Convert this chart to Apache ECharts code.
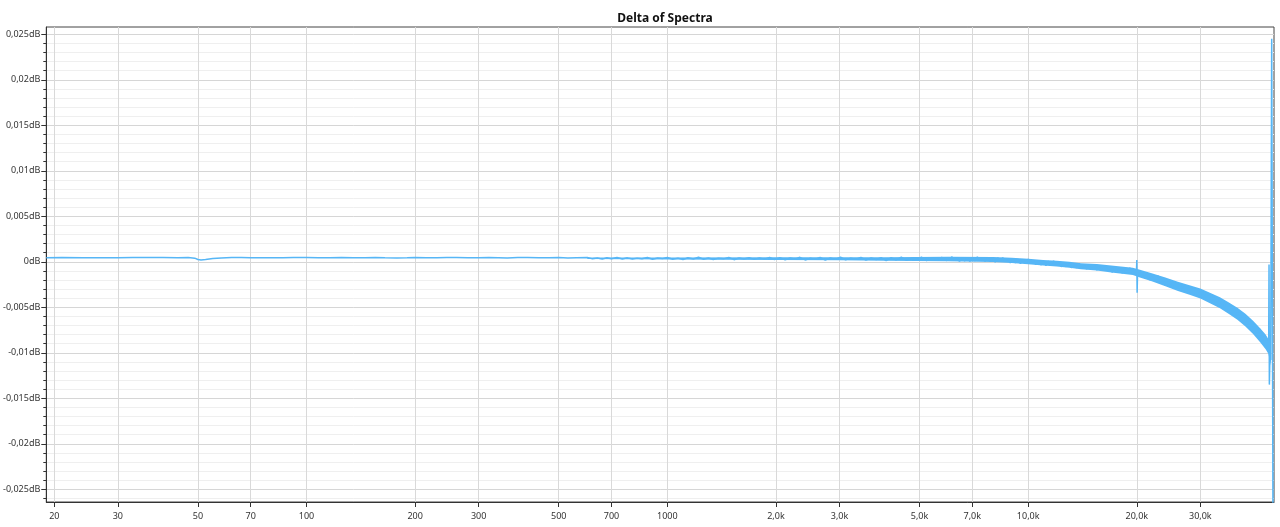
<!DOCTYPE html>
<html><head><meta charset="utf-8">
<script src="https://cdn.jsdelivr.net/npm/echarts@6/dist/echarts.min.js"></script>
<style>html,body{margin:0;padding:0;background:#fff}#chart{width:1280px;height:527px}</style>
</head><body><div id="chart"></div>
<script>
const titleText = 'Delta of Spectra';
const xTickValues = [20,30,50,70,100,200,300,500,700,1000,2000,3000,5000,7000,10000,20000,30000];
const yMajorValues = [-0.025,-0.02,-0.015,-0.01,-0.005,0,0.005,0.01,0.015,0.02,0.025];
const yMinorValues = [-0.026,-0.024,-0.023,-0.022,-0.021,-0.019,-0.018,-0.017,-0.016,-0.014,-0.013,-0.012,-0.011,-0.009,-0.008,-0.007,-0.006,-0.004,-0.003,-0.002,-0.001,0.001,0.002,0.003,0.004,0.006,0.007,0.008,0.009,0.011,0.012,0.013,0.014,0.016,0.017,0.018,0.019,0.021,0.022,0.023,0.024];

// Delta curve (Hz, dB)
const freqHz = [
  19,21,24,27,30,33,36,40,44,47,49,50,51,52.5,55,58,62,66,70,75,80,86,92,100,108,116,125,135,145,155,165,178,190,200,215,230,245,260,280,300,320,340,360,385,410,440,470,500,530,560,
  600,620,640,660,680,700,725,750,775,800,825,850,880,910,940,970,
  1000,1035,1070,1105,1140,1180,1220,1260,1300,1340,1385,1430,1480,1530,1580,1630,1685,1740,1800,1860,1920,1980,
  2050,2120,2190,2260,2330,2410,2490,2570,2650,2740,2830,2920,3020,3120,3220,3330,3440,3550,3670,3790,3910,
  4040,4170,4310,4450,4600,4750,4900,5060,5230,5400,5580,5760,5950,
  6150,6250,6350,6450,6560,6670,6780,6890,7000,7110,7230,7350,7470,7590,7720,7840,7970,8100,8230,8360,8500,8640,8780,8920,9070,9220,9370,9520,9680,9840,10000,
  10160,10330,10500,10670,10840,11020,11200,11380,11570,11760,11950,12150,12350,12550,12750,12960,13170,13390,13610,13830,14060,14290,14520,14760,15000,15250,15500,15750,16010,16270,16540,16810,17080,17360,17640,17930,18220,18520,18820,19130,19440,19760,
  19950,20000,20040,20100,
  20410,20740,21080,21430,21780,22140,22500,22870,23240,23620,24010,24400,24800,25210,25620,26040,26460,26890,27330,27780,28230,28690,29160,29640,30120,
  30610,31110,31620,32140,32670,33200,33750,34300,34860,35430,36010,36600,37200,37810,38430,39060,39700,40350,41010,41680,42360,43050,43750,44470,45000,45500,45900,46300,46400,
  46500,46600,46800,47000,47300,47700
];
const deltaDb = [
  0.00045,0.00046,0.00045,0.00044,0.00045,0.00046,0.00047,0.00046,0.00045,0.00046,0.00040,0.00025,0.00020,0.00024,0.00035,0.00042,0.00046,0.00047,0.00045,0.00044,0.00043,0.00045,0.00047,0.00046,0.00044,0.00045,0.00046,0.00044,0.00045,0.00046,0.00043,0.00042,0.00044,0.00046,0.00044,0.00043,0.00046,0.00048,0.00044,0.00043,0.00046,0.00045,0.00042,0.00046,0.00047,0.00043,0.00044,0.00046,0.00042,0.00045,
  0.00046,0.00032,0.00041,0.00029,0.00044,0.00034,0.00048,0.00031,0.00043,0.00030,0.00040,0.00033,0.00047,0.00028,0.00042,0.00035,
  0.00046,0.00028,0.00040,0.00024,0.00044,0.00031,0.00049,0.00027,0.00042,0.00025,0.00039,0.00032,0.00048,0.00023,0.00041,0.00030,0.00045,0.00026,0.00043,0.00029,0.00047,0.00025,
  0.00046,0.00022,0.00041,0.00027,0.00049,0.00020,0.00038,0.00029,0.00047,0.00019,0.00043,0.00026,0.00050,0.00021,0.00040,0.00028,0.00048,0.00018,0.00042,0.00025,0.00046,
  0.00013,0.00045,0.00020,0.00051,0.00016,0.00040,0.00024,0.00050,0.00012,0.00043,0.00019,0.00049,0.00014,
  0.00053,0.00018,0.00048,0.00005,0.00038,0.00010,0.00045,0.00005,0.00039,0.00010,0.00053,0.00014,0.00036,0.00006,0.00042,0.00004,0.00036,-0.00004,0.00043,0.00014,0.00045,0.00005,0.00037,-0.00012,0.00022,-0.00010,0.00027,-0.00019,0.00016,-0.00018,0.00030,
  -0.00017,0.00010,-0.00030,0.00014,-0.00035,0.00004,-0.00042,0.00007,-0.00025,0.00009,-0.00035,-0.00001,-0.00054,-0.00018,-0.00054,-0.00014,-0.00065,-0.00028,-0.00066,-0.00017,-0.00068,-0.00041,-0.00081,-0.00034,-0.00087,-0.00044,-0.00093,-0.00040,-0.00077,-0.00040,-0.00090,-0.00054,-0.00115,-0.00073,-0.00114,-0.00068,-0.00125,-0.00082,-0.00125,-0.00067,-0.00125,-0.00098,
  -0.00128,0.00020,-0.00340,-0.00105,
  -0.00164,-0.00114,-0.00184,-0.00138,-0.00203,-0.00142,-0.00192,-0.00152,-0.00215,-0.00177,-0.00260,-0.00218,-0.00272,-0.00226,-0.00298,-0.00254,-0.00310,-0.00250,-0.00322,-0.00291,-0.00344,-0.00294,-0.00366,-0.00322,-0.00390,
  -0.00329,-0.00384,-0.00345,-0.00423,-0.00379,-0.00475,-0.00432,-0.00496,-0.00453,-0.00533,-0.00490,-0.00568,-0.00500,-0.00588,-0.00563,-0.00643,-0.00588,-0.00695,-0.00648,-0.00750,-0.00688,-0.00778,-0.00736,-0.00860,-0.00818,-0.00940,-0.00892,-0.00978,-0.00904,
  -0.00030,-0.01350,-0.00990,-0.01080,0.02450,-0.03000
];

// Noise band envelope (Hz, dB)
const bandFreqHz = [600,1000,2000,3000,4000,6000,8000,9000,10000,11000,12000,13000,14000,15500,17000,19500,20400,22000,24000,26000,28000,30000,32000,34000,36000,38000,40000,42000,44000,45500,46300,47100];
const bandLowDb  = [0.00030,0.00024,0.00020,0.00017,0.00011,0.00006,-0.00002,-0.00013,-0.00028,-0.00040,-0.00051,-0.00065,-0.00083,-0.00095,-0.00118,-0.00145,-0.00172,-0.00215,-0.00268,-0.00320,-0.00363,-0.00405,-0.00458,-0.00510,-0.00573,-0.00636,-0.00710,-0.00793,-0.00887,-0.00960,-0.01010,-0.01140];
const bandHighDb = [0.00046,0.00048,0.00050,0.00051,0.00051,0.00054,0.00052,0.00043,0.00032,0.00020,0.00011,-0.00001,-0.00017,-0.00025,-0.00042,-0.00065,-0.00088,-0.00125,-0.00172,-0.00220,-0.00257,-0.00295,-0.00342,-0.00390,-0.00447,-0.00504,-0.00570,-0.00647,-0.00733,-0.00800,-0.00850,-0.00960];

const lineColor = '#56b6f6';
const font = '"Noto Sans", "Open Sans", sans-serif';

function fmtX(v) {
  if (v >= 2000) return (v / 1000).toFixed(1).replace('.', ',') + 'k';
  return String(v);
}
function fmtY(v) {
  return (v === 0 ? '0' : String(v).replace('.', ',')) + 'dB';
}

const lineData = freqHz.map((f, i) => [f, deltaDb[i]]);
const bandData = bandFreqHz.map((f, i) => [f, bandLowDb[i], bandHighDb[i]]);

const chart = echarts.init(document.getElementById('chart'), null, {renderer: 'canvas'});
chart.setOption({
  animation: false,
  backgroundColor: '#ffffff',
  title: {
    text: titleText, left: 660, top: 8, textAlign: 'center',
    textStyle: {fontFamily: font, fontSize: 12, fontWeight: 'bold', color: '#111'}
  },
  grid: {left: 46, right: 6, top: 27, bottom: 25, show: true, borderColor: '#444', borderWidth: 1, backgroundColor: 'transparent'},
  xAxis: {
    type: 'log', logBase: 10, min: 19, max: 48000,
    axisLine: {show: true, onZero: false, lineStyle: {color: '#333', width: 1}},
    axisTick: {show: true, customValues: xTickValues, length: 5, lineStyle: {color: '#333'}},
    axisLabel: {customValues: xTickValues, formatter: fmtX, fontFamily: font, fontSize: 9, color: '#333', margin: 10},
    splitLine: {show: true, lineStyle: {color: '#d9d9d9', width: 1}},
    minorTick: {show: false}, minorSplitLine: {show: false}
  },
  yAxis: [{
    type: 'value', min: -0.0264, max: 0.0258,
    axisLine: {show: true, onZero: false, lineStyle: {color: '#333', width: 1}},
    axisTick: {show: true, customValues: yMajorValues, length: 5, lineStyle: {color: '#333'}},
    axisLabel: {customValues: yMajorValues, formatter: fmtY, fontFamily: font, fontSize: 9, color: '#333', margin: 6},
    splitLine: {show: true, lineStyle: {color: '#d6d6d6', width: 1}}
  }, {
    type: 'value', min: -0.0264, max: 0.0258, position: 'left',
    axisLine: {show: false, onZero: false},
    axisTick: {show: true, customValues: yMinorValues, length: 3, lineStyle: {color: '#333'}},
    axisLabel: {show: false, customValues: yMinorValues},
    splitLine: {show: true, lineStyle: {color: '#efefef', width: 1}}
  }],
  series: [{
    type: 'custom', name: 'band', data: [0], yAxisIndex: 0, silent: true, z: 2,
    renderItem: function (params, api) {
      const pts = [];
      for (let i = 0; i < bandData.length; i++) pts.push(api.coord([bandData[i][0], bandData[i][2]]));
      for (let i = bandData.length - 1; i >= 0; i--) pts.push(api.coord([bandData[i][0], bandData[i][1]]));
      return {type: 'polygon', shape: {points: pts}, style: {fill: lineColor}};
    }
  }, {
    type: 'line', name: 'Delta', data: lineData, yAxisIndex: 0,
    showSymbol: false, symbol: 'none', clip: true,
    lineStyle: {color: lineColor, width: 1.5}, z: 3
  }]
});
</script></body></html>
